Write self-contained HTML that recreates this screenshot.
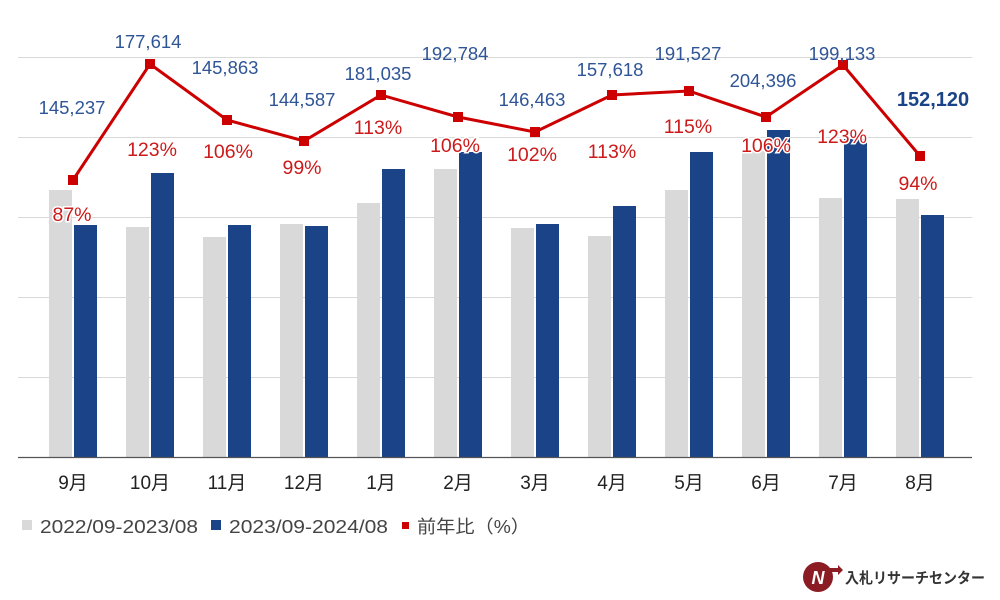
<!DOCTYPE html><html><head><meta charset="utf-8"><style>body{margin:0;background:#fff}svg{display:block}text{font-family:"Liberation Sans","Noto Sans CJK JP",sans-serif}</style></head><body>
<svg width="1000" height="600" viewBox="0 0 1000 600">
<g stroke="#d9d9d9" stroke-width="1"><line x1="18" x2="972" y1="57.5" y2="57.5"/><line x1="18" x2="972" y1="137.5" y2="137.5"/><line x1="18" x2="972" y1="217.5" y2="217.5"/><line x1="18" x2="972" y1="297.5" y2="297.5"/><line x1="18" x2="972" y1="377.5" y2="377.5"/></g>
<g id="bars"></g>
<line x1="18" x2="972" y1="457.5" y2="457.5" stroke="#555" stroke-width="1.3"/>
<g id="line"></g>
<g id="labels"></g>
<g font-size="19" fill="#222" text-anchor="middle" id="months"></g>
<rect x="22" y="520" width="10" height="10" fill="#d9d9d9"/><text x="40" y="533" font-size="18" fill="#444" textLength="158" lengthAdjust="spacingAndGlyphs">2022/09-2023/08</text>
<rect x="211" y="520" width="10" height="10" fill="#1b4388"/><text x="229" y="533" font-size="18" fill="#444" textLength="159" lengthAdjust="spacingAndGlyphs">2023/09-2024/08</text>
<rect x="402" y="522" width="7" height="7" fill="#cc0000"/><text x="417" y="533" font-size="18" fill="#444" textLength="113" lengthAdjust="spacingAndGlyphs">前年比（%）</text>
<circle cx="818" cy="577" r="15" fill="#8b1c24"/><text x="818" y="584" font-size="18" font-weight="bold" font-style="italic" fill="#fff" text-anchor="middle">N</text><path d="M830 568 l8 0 l0 -3 l5 5 l-5 5 l0 -3 l-8 0z" fill="#8b1c24"/>
<text x="845" y="583" font-size="15" font-weight="bold" fill="#333" textLength="140" lengthAdjust="spacingAndGlyphs">入札リサーチセンター</text>
</svg>
<script>
const g=[190,227,237,224,203,169,228,236,190,151,198,199],b=[225,173,225,226,169,152,224,206,152,130,139,215],
ly=[180,64,120,141,95,117,132,95,91,117,65,156],
vals=["145,237","177,614","145,863","144,587","181,035","192,784","146,463","157,618","191,527","204,396","199,133","152,120"],
vp=[[72,114],[148,48],[225,74],[302,106],[378,80],[455,60],[532,106],[610,76],[688,60],[763,87],[842,60],[933,106]],
pc=["87%","123%","106%","99%","113%","106%","102%","113%","115%","106%","123%","94%"],
pp=[[72,221],[152,156],[228,158],[302,174],[378,134],[455,152],[532,161],[612,158],[688,133],[766,152],[842,143],[918,190]];
let s="",l="",t="",m="";
for(let i=0;i<12;i++){const x=49+77*i;s+=`<rect x="${x}" y="${g[i]}" width="23" height="${457-g[i]}" fill="#d9d9d9"/><rect x="${x+25}" y="${b[i]}" width="23" height="${457-b[i]}" fill="#1b4388"/>`;
l+=`<rect x="${68+77*i}" y="${ly[i]-5}" width="10" height="10" fill="#cc0000"/>`;
const bold=i==11;t+=`<text x="${vp[i][0]}" y="${vp[i][1]}" font-size="${bold?20:18.5}" ${bold?'font-weight="bold"':''} fill="${bold?'#1b4388':'#2f5597'}" text-anchor="middle">${vals[i]}</text><text x="${pp[i][0]}" y="${pp[i][1]}" font-size="19.5" fill="#cc1a1a" text-anchor="middle" stroke="#fff" stroke-width="3" paint-order="stroke">${pc[i]}</text>`;
m+=`<text x="${73+77*i}" y="489">${[9,10,11,12,1,2,3,4,5,6,7,8][i]}月</text>`;}
const pts=ly.map((y,i)=>`${73+77*i},${y}`).join(" ");
document.getElementById("bars").innerHTML=s;
document.getElementById("line").innerHTML=`<polyline points="${pts}" fill="none" stroke="#cc0000" stroke-width="3"/>`+l;
document.getElementById("labels").innerHTML=t;document.getElementById("months").innerHTML=m;
</script></body></html>
